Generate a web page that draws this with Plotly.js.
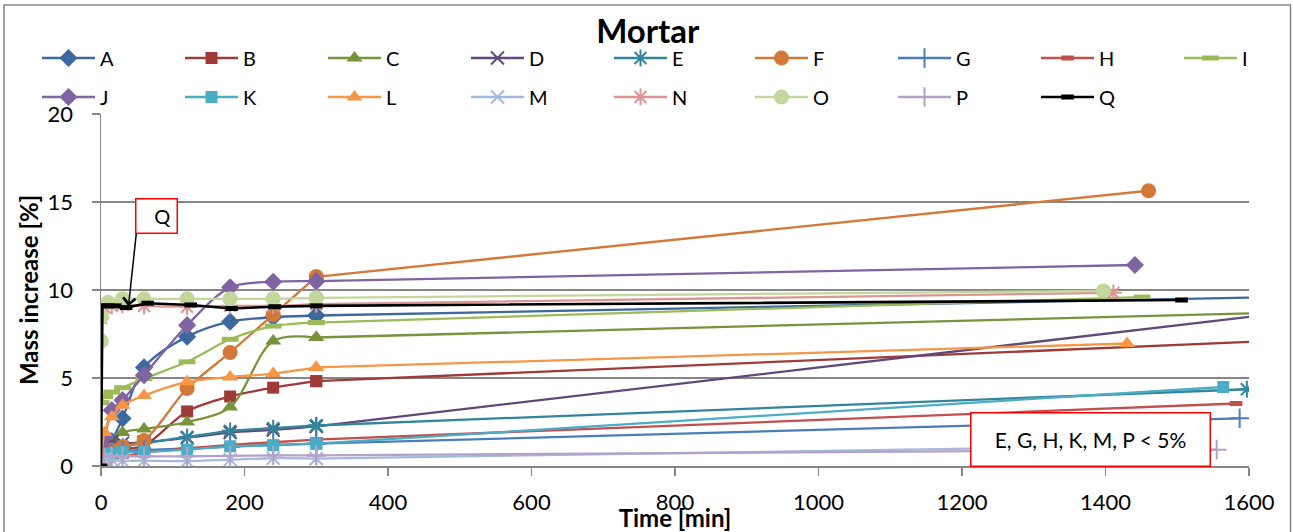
<!DOCTYPE html>
<html><head><meta charset="utf-8">
<script src="https://cdn.plot.ly/plotly-3.0.1.min.js"></script>
<style>html,body{margin:0;padding:0;background:#fff}#chart{width:1293px;height:532px}</style>
</head><body><div id="chart"></div>
<script>
// ---- data (time in min, mass increase in %) ----
const seriesNames = ['A','B','C','D','E','F','G','H','I','J','K','L','M','N','O','P','Q'];
const tA = [0,5,15,30,60,120,180,240,300,1700];
const vA = [0,0.6,1.4,2.7,5.6,7.35,8.2,8.45,8.55,9.64];
const tB = [0,5,15,30,60,120,180,240,300,1700];
const vB = [0,0.3,0.7,0.95,1.15,3.1,3.95,4.45,4.82,7.22];
const tC = [0,5,15,30,60,120,180,240,300,1700];
const vC = [0,0.5,1.3,1.9,2.1,2.5,3.35,7.1,7.3,8.78];
const tD = [0,5,15,30,60,120,180,240,300,1650];
const vD = [0,1.5,1.4,1.3,1.35,1.6,1.9,2.05,2.25,8.71];
const tE = [0,5,15,30,60,120,180,240,300,1597];
const vE = [0,0.5,0.9,1.1,1.3,1.65,2.0,2.15,2.3,4.36];
const tF = [0,5,15,30,60,120,180,240,300,1460];
const vF = [0,0.5,0.9,1.1,1.45,4.4,6.45,8.6,10.75,15.64];
const tG = [0,5,15,30,60,120,180,240,300,1587];
const vG = [0,0.4,0.7,0.85,0.9,1.0,1.1,1.2,1.27,2.71];
const tH = [0,5,15,30,60,120,180,240,300,1582];
const vH = [0,0.2,0.4,0.55,0.75,1.0,1.2,1.35,1.5,3.55];
const tI = [0,5,15,30,60,120,180,240,300,1451];
const vI = [3.6,3.95,4.2,4.45,4.97,5.92,7.2,7.95,8.15,9.6];
const tJ = [0,5,15,30,60,120,180,240,300,1441];
const vJ = [1.2,1.65,3.17,3.74,5.16,8.0,10.15,10.47,10.5,11.42];
const tK = [0,5,15,30,60,120,180,240,300,1564];
const vK = [0,0.6,0.7,0.8,0.8,0.93,1.12,1.18,1.27,4.49];
const tL = [0,5,15,30,60,120,180,240,300,1430];
const vL = [0,1.9,2.8,3.45,4.0,4.78,5.06,5.25,5.6,6.96];
const tM = [0,5,15,30,60,120,180,240,300,1400];
const vM = [0,0.4,0.35,0.3,0.3,0.28,0.36,0.44,0.42,1.1];
const tN = [0,5,15,30,60,120,180,240,300,1411];
const vN = [8.4,9.0,9.1,9.15,9.1,9.05,9.1,9.1,9.2,9.84];
const tO = [0,0.5,1,10,30,60,120,180,240,300,1397];
const vO = [0,7.1,8.5,9.3,9.5,9.5,9.5,9.5,9.5,9.55,9.95];
const tP = [0,5,15,30,60,120,180,240,300,1555];
const vP = [0,0.5,0.55,0.55,0.55,0.55,0.57,0.6,0.6,0.93];
const tQ = [0,2,10,20,35,65,125,182,242,300,1506];
const vQ = [0,9.1,9.1,9.1,9.0,9.25,9.15,8.95,9.05,9.1,9.43];

const xTicks = [0,200,400,600,800,1000,1200,1400,1600];
const yTicks = [0,5,10,15,20];

// ---- styles ----
const times = {A:tA,B:tB,C:tC,D:tD,E:tE,F:tF,G:tG,H:tH,I:tI,J:tJ,K:tK,L:tL,M:tM,N:tN,O:tO,P:tP,Q:tQ};
const vals  = {A:vA,B:vB,C:vC,D:vD,E:vE,F:vF,G:vG,H:vH,I:vI,J:vJ,K:vK,L:vL,M:vM,N:vN,O:vO,P:vP,Q:vQ};
const style = {
  A:{c:'#3D69A0', s:'diamond', z:14},
  B:{c:'#9E3B38', s:'square', z:12},
  C:{c:'#77933C', s:'triangle-up', z:14},
  D:{c:'#60497A', s:'x-thin-open', z:13, lw:2},
  E:{c:'#31859C', s:'asterisk-open', z:14, lw:2},
  F:{c:'#D2793A', s:'circle', z:15},
  G:{c:'#4A7EBB', s:'cross-thin-open', z:14, lw:2},
  H:{c:'#C0504D', s:'line-ew-open', z:9, lw:5},
  I:{c:'#9BBB59', s:'line-ew-open', z:12, lw:5},
  J:{c:'#8064A2', s:'diamond', z:14},
  K:{c:'#4BACC6', s:'square', z:12},
  L:{c:'#F79646', s:'triangle-up', z:14},
  M:{c:'#A5B8DD', s:'x-thin-open', z:13, lw:2},
  N:{c:'#D99694', s:'asterisk-open', z:14, lw:2},
  O:{c:'#C3D69B', s:'circle', z:15},
  P:{c:'#B3A2C7', s:'cross-thin-open', z:14, lw:2},
  Q:{c:'#000000', s:'line-ew-open', z:9, lw:5}
};
const legendOf = n => ('ABCDE'.includes(n) ? 'legend' : 'FGHI'.includes(n) ? 'legend2' : 'JKLMN'.includes(n) ? 'legend3' : 'legend4');

const traces = [];
seriesNames.forEach(n => {
  const st = style[n];
  const marker = {symbol: st.s, size: st.z, color: st.c};
  marker.line = st.lw ? {width: st.lw, color: st.c} : {width: 0};
  const t = times[n], v = vals[n];
  const lw = n === 'Q' ? 2.6 : 2.3;
  if (n === 'Q') {
    traces.push({type:'scatter', mode:'lines+markers', name:n, x:t, y:v, legend:legendOf(n), legendgroup:n,
      line:{color:st.c, width:lw, shape:'linear'}, marker:marker});
    return;
  }
  const k = t.length - 1;
  // smoothed early part
  traces.push({type:'scatter', mode:'lines+markers', name:n, x:t.slice(0,k), y:v.slice(0,k), legend:legendOf(n), legendgroup:n,
    line:{color:st.c, width:lw, shape:'spline', smoothing:0.9}, marker:marker});
  // long straight stretch to the last reading
  traces.push({type:'scatter', mode:'lines+markers', name:n, x:t.slice(k-1), y:v.slice(k-1), legend:legendOf(n), legendgroup:n,
    showlegend:false, line:{color:st.c, width:lw, shape:'linear'}, marker:marker});
});

const W = 1148, H = 352, PL = 101, PB = 466;
const px2x = p => (p - PL) / W;
const py2y = p => (PB - p) / H;

const legBase = {orientation:'h', xanchor:'left', yanchor:'middle', entrywidth:75, entrywidthmode:'pixels',
  itemwidth:53, font:{size:20, family:'Lato, sans-serif', color:'#000'}, bgcolor:'rgba(0,0,0,0)', borderwidth:0,
  traceorder:'normal', tracegroupgap:0};

const layout = {
  width:1293, height:532,
  margin:{l:101, r:44, t:114, b:66, autoexpand:false},
  paper_bgcolor:'#ffffff', plot_bgcolor:'#ffffff',
  font:{family:'Lato, sans-serif', color:'#000'},
  showlegend:true,
  title:{text:'<b>Mortar</b>', font:{size:33, family:'Lato, sans-serif', color:'#000'}, xref:'container', x:0.501, yref:'container', y:1-31/532, yanchor:'middle', xanchor:'center'},
  xaxis:{range:[0,1600], tickvals:xTicks, showgrid:false, zeroline:false, showline:true, linecolor:'#868686', linewidth:1.5,
    ticks:'outside', ticklen:8, tickcolor:'#868686', tickwidth:1.5, tickfont:{size:22}, ticklabelstandoff:8,
    title:{text:'<b>Time [min]</b>', font:{size:24}, standoff:0}},
  yaxis:{range:[0,20], tickvals:yTicks, showgrid:true, gridcolor:'#868686', gridwidth:1.5, zeroline:false, showline:true,
    linecolor:'#868686', linewidth:1.5, ticks:'outside', ticklen:8, tickcolor:'#868686', tickwidth:1.5, tickfont:{size:22},
    ticklabelstandoff:14},
  legend: Object.assign({}, legBase, {x:px2x(37), y:py2y(58)}),
  legend2: Object.assign({}, legBase, {x:px2x(750), y:py2y(58)}),
  legend3: Object.assign({}, legBase, {x:px2x(37), y:py2y(97)}),
  legend4: Object.assign({}, legBase, {x:px2x(750), y:py2y(97)}),
  shapes:[
    {type:'rect', xref:'paper', yref:'paper', x0:px2x(4), x1:px2x(1290.5), y0:py2y(560), y1:py2y(5),
     line:{color:'#868686', width:1.5}, fillcolor:'rgba(0,0,0,0)', layer:'below'}
  ],
  annotations:[
    {xref:'paper', yref:'paper', x:px2x(28), y:py2y(290), text:'<b>Mass increase [%]</b>', textangle:-90, showarrow:false,
     xanchor:'center', yanchor:'middle', font:{size:24, color:'#000'}},
    {xref:'x', yref:'y', x:38.3, y:9.08, text:'', showarrow:true, ax:8.5, ay:-79, arrowhead:4, arrowsize:1.6, arrowwidth:1.5, arrowcolor:'#000'},
    {xref:'x', yref:'y', x:78, y:14.23, text:'Q&nbsp;', showarrow:false, width:38, height:31, align:'right',
     bordercolor:'#FF0000', borderwidth:1.5, borderpad:1, bgcolor:'#ffffff', font:{size:20, color:'#000'}},
    {xref:'x', yref:'y', x:1378.8, y:1.52, text:'E, G, H, K, M, P &lt; 5%', showarrow:false, width:236, height:50, align:'center',
     bordercolor:'#FF0000', borderwidth:1.5, borderpad:1, bgcolor:'#ffffff', font:{size:21, color:'#000'}}
  ]
};

Plotly.newPlot('chart', traces, layout, {displayModeBar:false, staticPlot:true});
</script>
</body></html>
